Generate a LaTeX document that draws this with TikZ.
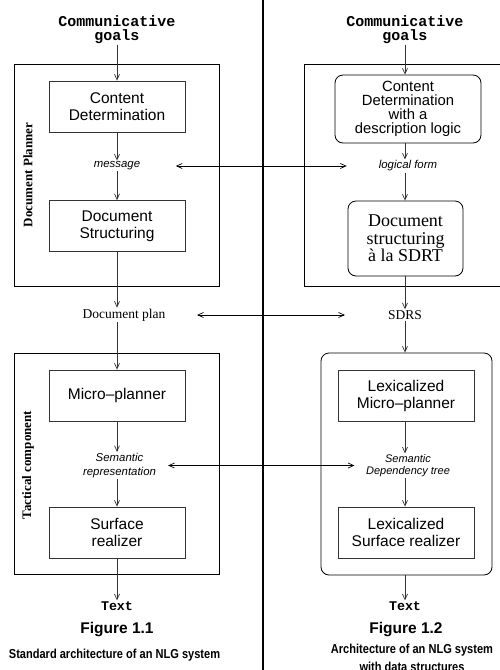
\documentclass[tikz,border=0pt]{standalone}
\usepackage{fontspec}
\setmainfont{Liberation Serif}
\setsansfont{Liberation Sans}
\setmonofont{Liberation Mono}
\usetikzlibrary{arrows.meta}
\begin{document}
\begin{tikzpicture}[x=1pt,y=-1pt,
  >={Straight Barb[length=5.5pt,width=5pt]},
  arr/.style={->, line width=0.7pt, draw=black!80},
  darr/.style={<->, line width=0.7pt, draw=black},
  box/.style={draw=black!80, line width=0.8pt, minimum width=136pt, minimum height=51pt, inner sep=0pt, align=center, font=\sffamily\fontsize{15.5}{17}\selectfont},
  rbox/.style={box, rounded corners=8pt, draw=black},
  frame/.style={draw=black, line width=0.8pt, inner sep=0pt},
  goal/.style={align=center, inner sep=1pt, font=\ttfamily\bfseries\fontsize{15}{14}\selectfont},
  outtext/.style={inner sep=1pt, font=\ttfamily\bfseries\fontsize{13.3}{13}\selectfont},
  lab/.style={align=center, inner sep=1pt, font=\sffamily\itshape\fontsize{11.4}{14}\selectfont},
  ser/.style={inner sep=1pt, font=\fontsize{13.5}{15}\selectfont},
  side/.style={rotate=90, inner sep=1pt, font=\bfseries\fontsize{13}{13}\selectfont},
  fig/.style={inner sep=1pt, font=\sffamily\bfseries\fontsize{15.5}{17}\selectfont},
  captext/.style={inner sep=1pt, xscale=0.85, align=center, font=\sffamily\bfseries\fontsize{13}{18}\selectfont}
]
\useasboundingbox (0,0) rectangle (500,670);

% divider
\draw[line width=2.5pt] (263,0) -- (263,670);

% ===== left: standard architecture =====
\node[frame, minimum width=205pt, minimum height=222pt] (dp1) at (116.5,175) {};
\node[frame, minimum width=205pt, minimum height=221pt] (tc1) at (116.5,463.5) {};
\node[side] (dp1lab) at (28,175) {Document Planner};
\node[side] (tc1lab) at (28,465) {Tactical component};

\node[goal] (g1) at (117,29.5) {Communicative\\goals};
\node[box] (cd1) at (117,106.5) {Content\\Determination};
\node[lab] (msg) at (117,166) {message};
\node[box] (ds1) at (117,226) {Document\\Structuring};
\node[ser] (plan) at (124,315) {Document plan};
\node[box] (mp1) at (117,395.5) {Micro–planner};
\node[lab] (semrep) at (119.5,465.5) {Semantic\\representation};
\node[box] (sr1) at (117,532.5) {Surface\\realizer};
\node[outtext] (t1) at (117,606) {Text};
\node[fig] (f1) at (117,630) {Figure 1.1};
\node[captext] (c1) at (114.5,655) {Standard architecture of an NLG system};

\draw[arr] (g1.south) -- (cd1.north);
\draw[arr] (cd1.south) -- (msg.north);
\draw[arr] (msg.south) -- (ds1.north);
\draw[arr] (ds1.south) -- (ds1.south |- plan.north);
\draw[arr] (mp1.north |- plan.south) -- (mp1.north);
\draw[arr] (mp1.south) -- (mp1.south |- semrep.north);
\draw[arr] (sr1.north |- semrep.south) -- (sr1.north);
\draw[arr] (sr1.south) -- (t1.north);

% ===== right: architecture with data structures =====
\node[frame, minimum width=201pt, minimum height=222pt] (dp2) at (404.5,175) {};
\node[frame, rounded corners=8pt, minimum width=171pt, minimum height=222pt] (tc2) at (406.5,464) {};

\node[goal] (g2) at (405,29.5) {Communicative\\goals};
\node[rbox, minimum width=146pt, minimum height=68pt, font=\sffamily\fontsize{14.8}{14.2}\selectfont] (cd2) at (408,109) {Content\\Determination\\with a\\description logic};
\node[lab] (lf) at (408,166) {logical form};
\node[rbox, minimum width=115pt, minimum height=75pt, font=\fontsize{18}{17.5}\selectfont] (ds2) at (405.5,238.5) {Document\\structuring\\à la SDRT};
\node[ser] (sdrs) at (405,315) {SDRS};
\node[box] (mp2) at (406,395.5) {Lexicalized\\Micro–planner};
\node[lab, font=\sffamily\itshape\fontsize{11}{11.5}\selectfont] (semdep) at (408,465.5) {Semantic\\Dependency tree};
\node[box] (sr2) at (406,532.5) {Lexicalized\\Surface realizer};
\node[outtext] (t2) at (405,606) {Text};
\node[fig] (f2) at (406,630) {Figure 1.2};
\node[captext] (c2) at (412,658) {Architecture of an NLG system\\with data structures};

\draw[arr] (g2.south) -- (g2.south |- cd2.north);
\draw[arr] (cd2.south -| g2) -- (lf.north -| g2);
\draw[arr] (lf.south -| g2) -- (ds2.north -| g2);
\draw[arr] (ds2.south -| g2) -- (sdrs.north -| g2);
\draw[arr] (sdrs.south) -- (sdrs.south |- tc2.north);
\draw[arr] (mp2.south -| g2) -- (semdep.north -| g2);
\draw[arr] (semdep.south -| g2) -- (sr2.north -| g2);
\draw[arr] (tc2.south -| t2) -- (t2.north);

% ===== correspondences =====
\draw[darr, shorten <=34.5pt, shorten >=31pt] (msg) -- (lf);
\draw[darr, shorten <=30.5pt, shorten >=42pt] (plan) -- (sdrs);
\draw[darr, shorten <=11pt, shorten >=10.5pt] (semrep) -- (semdep);
\end{tikzpicture}
\end{document}
